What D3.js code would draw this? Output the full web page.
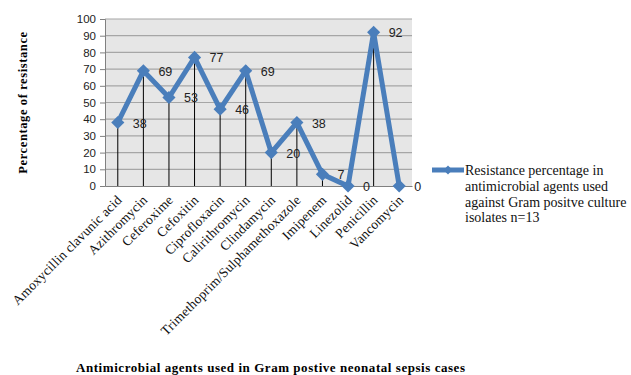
<!DOCTYPE html>
<html>
<head>
<meta charset="utf-8">
<script src="https://cdn.jsdelivr.net/npm/d3@7"></script>
<style>
  body { margin: 0; background: #fff; }
</style>
</head>
<body>
<div id="chart"></div>
<script>
// datos:
const agents = ["Amoxycillin clavunic acid", "Azithromycin", "Ceferoxime", "Cefoxitin", "Ciprofloxacin",
  "Calirithromycin", "Clindamycin", "Trimethoprim/Sulphamethoxazole", "Imipenem", "Linezolid", "Penicillin", "Vancomycin"]
const resistance = [38, 69, 53, 77, 46, 69, 20, 38, 7, 0, 92, 0]
const yTicks = [0, 10, 20, 30, 40, 50, 60, 70, 80, 90, 100]
const legendLines = ["Resistance percentage in", "antimicrobial agents used", "against Gram positve culture", "isolates n=13"]

let data = agents.map((a, i) => ({ agent: a, value: resistance[i] }))

// Constantes:
const width = 631
const height = 375
const margins = { top: 19, left: 105, right: 219, bottom: 189 }
const eWidth = width - margins.left - margins.right
const eHeight = height - margins.top - margins.bottom
const blue = "#4a7ebb"

// grupos:
let svg = d3.select('div#chart').append('svg').attr('width', width).attr('height', height)
let elementGroup = svg.append('g').attr('transform', `translate(${margins.left}, ${margins.top})`)

// escalas:
let x = d3.scaleBand().range([0, eWidth]).domain(agents)
let y = d3.scaleLinear().range([eHeight, 0]).domain([0, 100])

// fondo + rejilla
elementGroup.append('rect').attr('width', eWidth).attr('height', eHeight).attr('fill', '#e6e6e6')
elementGroup.selectAll('line.grid').data(yTicks.slice(1)).enter().append('line')
  .attr('class', 'grid')
  .attr('x1', 0).attr('x2', eWidth)
  .attr('y1', d => y(d)).attr('y2', d => y(d))
  .attr('stroke', '#a6a6a6').attr('stroke-width', 1.2)

// lineas verticales
elementGroup.selectAll('line.drop').data(data.filter(d => d.value > 0)).enter().append('line')
  .attr('class', 'drop')
  .attr('x1', d => x(d.agent) + x.bandwidth() / 2).attr('x2', d => x(d.agent) + x.bandwidth() / 2)
  .attr('y1', d => y(d.value)).attr('y2', eHeight)
  .attr('stroke', '#000').attr('stroke-width', 1)

// ejes:
let yAxis = d3.axisLeft(y).tickValues(yTicks).tickSize(5).tickPadding(4)
let yAxisGroup = elementGroup.append('g').call(yAxis)
yAxisGroup.select('.domain').attr('stroke', '#808080')
yAxisGroup.selectAll('.tick line').attr('stroke', '#808080')
yAxisGroup.selectAll('text').attr('font-family', 'Liberation Sans, Arial, sans-serif').attr('font-size', 11.5).attr('fill', '#222')

let xAxis = d3.axisBottom(x).tickSize(0).tickPadding(0)
let xAxisGroup = elementGroup.append('g').attr('transform', `translate(0, ${eHeight})`).call(xAxis)
xAxisGroup.select('.domain').attr('stroke', '#808080')
xAxisGroup.selectAll('.tick text')
  .attr('font-family', 'Liberation Serif, Times New Roman, serif').attr('font-size', 13.5).attr('fill', '#111')
  .attr('letter-spacing', 0.2)
  .attr('text-anchor', 'end')
  .attr('transform', 'translate(2, 12) rotate(-45)')
  .attr('dy', '0.3em')

// linea de datos
let line = d3.line().x(d => x(d.agent) + x.bandwidth() / 2).y(d => y(d.value))
elementGroup.append('path').datum(data)
  .attr('d', line).attr('fill', 'none').attr('stroke', blue).attr('stroke-width', 5)
  .attr('stroke-linejoin', 'miter')

let diamond = d3.symbol().type(d3.symbolDiamond2).size(110)
elementGroup.selectAll('path.marker').data(data).enter().append('path')
  .attr('class', 'marker')
  .attr('d', diamond)
  .attr('transform', d => `translate(${x(d.agent) + x.bandwidth() / 2}, ${y(d.value)})`)
  .attr('fill', blue)

// etiquetas de datos
elementGroup.selectAll('text.label').data(data).enter().append('text')
  .attr('class', 'label')
  .attr('x', d => x(d.agent) + x.bandwidth() / 2 + 15)
  .attr('y', d => y(d.value) + 5)
  .attr('font-family', 'Liberation Sans, Arial, sans-serif').attr('font-size', 12.5).attr('fill', '#222')
  .text(d => d.value)

// titulos
svg.append('text')
  .attr('transform', `translate(27, ${margins.top + eHeight / 2}) rotate(-90)`)
  .attr('text-anchor', 'middle')
  .attr('font-family', 'Liberation Serif, Times New Roman, serif').attr('font-weight', 'bold')
  .attr('font-size', 12.5).attr('letter-spacing', 0.6)
  .text('Percentage of resistance')

svg.append('text')
  .attr('x', 76).attr('y', 372)
  .attr('font-family', 'Liberation Serif, Times New Roman, serif').attr('font-weight', 'bold')
  .attr('font-size', 13).attr('textLength', 389).attr('lengthAdjust', 'spacing')
  .text('Antimicrobial agents used  in Gram postive neonatal sepsis cases')

// leyenda
let legend = svg.append('g').attr('transform', 'translate(432, 170)')
legend.append('line').attr('x1', 0).attr('x2', 32).attr('y1', 0).attr('y2', 0)
  .attr('stroke', blue).attr('stroke-width', 5)
legend.append('path').attr('d', d3.symbol().type(d3.symbolDiamond2).size(50)).attr('transform', 'translate(16,0)').attr('fill', blue)
legend.selectAll('text').data(legendLines).enter().append('text')
  .attr('x', 33).attr('y', (d, i) => 5 + i * 15.8)
  .attr('font-family', 'Liberation Serif, Times New Roman, serif').attr('font-size', 14).attr('fill', '#111')
  .text(d => d)
</script>
</body>
</html>
